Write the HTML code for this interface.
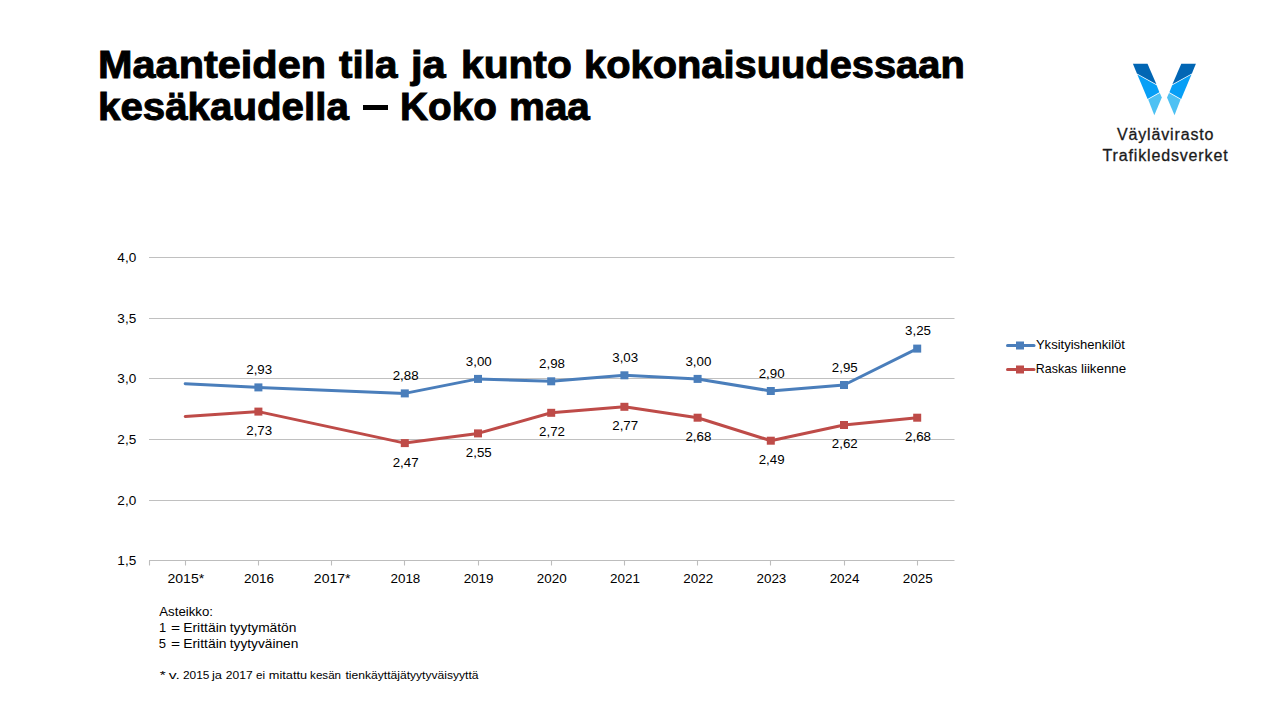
<!DOCTYPE html>
<html><head><meta charset="utf-8">
<style>
html,body{margin:0;padding:0;background:#fff;}
body{width:1280px;height:720px;position:relative;overflow:hidden;font-family:"Liberation Sans",sans-serif;}
.w{position:absolute;font-weight:bold;font-size:39.2px;line-height:42px;-webkit-text-stroke:1px #000;color:#000;white-space:nowrap;transform-origin:0 0;}
.logo-t{position:absolute;font-size:16px;letter-spacing:0.85px;color:#1a1a1a;-webkit-text-stroke:0.3px #1a1a1a;white-space:nowrap;}
svg{position:absolute;left:0;top:0;}
.t{font-family:"Liberation Sans",sans-serif;font-size:12px;fill:#000;}
</style></head><body>
<div class="w" style="left:98.13px;top:44px;transform:scaleX(1.0578)">Maanteiden</div>
<div class="w" style="left:339.2px;top:44px;transform:scaleX(1.0316)">tila</div>
<div class="w" style="left:410.56px;top:44px;transform:scaleX(1.0629)">ja</div>
<div class="w" style="left:461.32px;top:44px;transform:scaleX(1.0385)">kunto</div>
<div class="w" style="left:583.57px;top:44px;transform:scaleX(1.0164)">kokonaisuudessaan</div>
<div class="w" style="left:98.19px;top:86px;transform:scaleX(1.0278)">kesäkaudella</div>
<div style="position:absolute;left:363.3px;top:105.1px;width:24.9px;height:4.9px;background:#000"></div>
<div class="w" style="left:400.02px;top:86px;transform:scaleX(0.9895)">Koko</div>
<div class="w" style="left:508.94px;top:86px;transform:scaleX(1.0299)">maa</div>
<svg width="1280" height="720" viewBox="0 0 1280 720">
<line x1="149" y1="257.5" x2="954.5" y2="257.5" stroke="#c0c0c0" stroke-width="1.15"/>
<line x1="149" y1="318.5" x2="954.5" y2="318.5" stroke="#c0c0c0" stroke-width="1.15"/>
<line x1="149" y1="378.5" x2="954.5" y2="378.5" stroke="#c0c0c0" stroke-width="1.15"/>
<line x1="149" y1="439.5" x2="954.5" y2="439.5" stroke="#c0c0c0" stroke-width="1.15"/>
<line x1="149" y1="500.5" x2="954.5" y2="500.5" stroke="#c0c0c0" stroke-width="1.15"/>
<line x1="149" y1="560.5" x2="954.5" y2="560.5" stroke="#bdbdbd" stroke-width="1.15"/>
<line x1="149.5" y1="560.5" x2="149.5" y2="565.5" stroke="#bdbdbd" stroke-width="1.1"/>
<line x1="185.5" y1="560.5" x2="185.5" y2="565.5" stroke="#bdbdbd" stroke-width="1.1"/>
<line x1="258.5" y1="560.5" x2="258.5" y2="565.5" stroke="#bdbdbd" stroke-width="1.1"/>
<line x1="331.5" y1="560.5" x2="331.5" y2="565.5" stroke="#bdbdbd" stroke-width="1.1"/>
<line x1="404.5" y1="560.5" x2="404.5" y2="565.5" stroke="#bdbdbd" stroke-width="1.1"/>
<line x1="478.5" y1="560.5" x2="478.5" y2="565.5" stroke="#bdbdbd" stroke-width="1.1"/>
<line x1="551.5" y1="560.5" x2="551.5" y2="565.5" stroke="#bdbdbd" stroke-width="1.1"/>
<line x1="624.5" y1="560.5" x2="624.5" y2="565.5" stroke="#bdbdbd" stroke-width="1.1"/>
<line x1="697.5" y1="560.5" x2="697.5" y2="565.5" stroke="#bdbdbd" stroke-width="1.1"/>
<line x1="770.5" y1="560.5" x2="770.5" y2="565.5" stroke="#bdbdbd" stroke-width="1.1"/>
<line x1="844.5" y1="560.5" x2="844.5" y2="565.5" stroke="#bdbdbd" stroke-width="1.1"/>
<line x1="917.5" y1="560.5" x2="917.5" y2="565.5" stroke="#bdbdbd" stroke-width="1.1"/>
<text transform="translate(136.20,565.20) scale(1.13,1)" text-anchor="end" class="t">1,5</text>
<text transform="translate(136.20,504.60) scale(1.13,1)" text-anchor="end" class="t">2,0</text>
<text transform="translate(136.20,444.00) scale(1.13,1)" text-anchor="end" class="t">2,5</text>
<text transform="translate(136.20,383.40) scale(1.13,1)" text-anchor="end" class="t">3,0</text>
<text transform="translate(136.20,322.80) scale(1.13,1)" text-anchor="end" class="t">3,5</text>
<text transform="translate(136.20,262.20) scale(1.13,1)" text-anchor="end" class="t">4,0</text>
<text transform="translate(185.80,582.70) scale(1.17,1)" text-anchor="middle" class="t">2015*</text>
<text transform="translate(259.00,582.70) scale(1.12,1)" text-anchor="middle" class="t">2016</text>
<text transform="translate(332.20,582.70) scale(1.17,1)" text-anchor="middle" class="t">2017*</text>
<text transform="translate(405.40,582.70) scale(1.12,1)" text-anchor="middle" class="t">2018</text>
<text transform="translate(478.60,582.70) scale(1.12,1)" text-anchor="middle" class="t">2019</text>
<text transform="translate(551.80,582.70) scale(1.12,1)" text-anchor="middle" class="t">2020</text>
<text transform="translate(625.00,582.70) scale(1.12,1)" text-anchor="middle" class="t">2021</text>
<text transform="translate(698.20,582.70) scale(1.12,1)" text-anchor="middle" class="t">2022</text>
<text transform="translate(771.40,582.70) scale(1.12,1)" text-anchor="middle" class="t">2023</text>
<text transform="translate(844.60,582.70) scale(1.12,1)" text-anchor="middle" class="t">2024</text>
<text transform="translate(917.80,582.70) scale(1.12,1)" text-anchor="middle" class="t">2025</text>
<polyline points="185.2,383.7 258.4,387.4 404.8,393.4 478.0,378.9 551.2,381.3 624.4,375.3 697.6,378.9 770.8,391.0 844.0,385.0 917.2,348.6" fill="none" stroke="#4a7ebb" stroke-width="3" stroke-linejoin="round" stroke-linecap="round"/>
<rect x="254.4" y="383.4" width="8" height="8" fill="#4a7ebb"/>
<rect x="400.8" y="389.4" width="8" height="8" fill="#4a7ebb"/>
<rect x="474.0" y="374.9" width="8" height="8" fill="#4a7ebb"/>
<rect x="547.2" y="377.3" width="8" height="8" fill="#4a7ebb"/>
<rect x="620.4" y="371.3" width="8" height="8" fill="#4a7ebb"/>
<rect x="693.6" y="374.9" width="8" height="8" fill="#4a7ebb"/>
<rect x="766.8" y="387.0" width="8" height="8" fill="#4a7ebb"/>
<rect x="840.0" y="381.0" width="8" height="8" fill="#4a7ebb"/>
<rect x="913.2" y="344.6" width="8" height="8" fill="#4a7ebb"/>
<text transform="translate(259.20,373.98) scale(1.11,1)" text-anchor="middle" class="t">2,93</text>
<text transform="translate(405.60,380.04) scale(1.11,1)" text-anchor="middle" class="t">2,88</text>
<text transform="translate(478.80,365.50) scale(1.11,1)" text-anchor="middle" class="t">3,00</text>
<text transform="translate(552.00,367.92) scale(1.11,1)" text-anchor="middle" class="t">2,98</text>
<text transform="translate(625.20,361.86) scale(1.11,1)" text-anchor="middle" class="t">3,03</text>
<text transform="translate(698.40,365.50) scale(1.11,1)" text-anchor="middle" class="t">3,00</text>
<text transform="translate(771.60,377.62) scale(1.11,1)" text-anchor="middle" class="t">2,90</text>
<text transform="translate(844.80,371.56) scale(1.11,1)" text-anchor="middle" class="t">2,95</text>
<text transform="translate(918.00,335.20) scale(1.11,1)" text-anchor="middle" class="t">3,25</text>
<polyline points="185.2,416.5 258.4,411.6 404.8,443.1 478.0,433.4 551.2,412.8 624.4,406.8 697.6,417.7 770.8,440.7 844.0,425.0 917.2,417.7" fill="none" stroke="#be4b48" stroke-width="3" stroke-linejoin="round" stroke-linecap="round"/>
<rect x="254.4" y="407.6" width="8" height="8" fill="#be4b48"/>
<rect x="400.8" y="439.1" width="8" height="8" fill="#be4b48"/>
<rect x="474.0" y="429.4" width="8" height="8" fill="#be4b48"/>
<rect x="547.2" y="408.8" width="8" height="8" fill="#be4b48"/>
<rect x="620.4" y="402.8" width="8" height="8" fill="#be4b48"/>
<rect x="693.6" y="413.7" width="8" height="8" fill="#be4b48"/>
<rect x="766.8" y="436.7" width="8" height="8" fill="#be4b48"/>
<rect x="840.0" y="421.0" width="8" height="8" fill="#be4b48"/>
<rect x="913.2" y="413.7" width="8" height="8" fill="#be4b48"/>
<text transform="translate(259.20,435.02) scale(1.11,1)" text-anchor="middle" class="t">2,73</text>
<text transform="translate(405.60,466.54) scale(1.11,1)" text-anchor="middle" class="t">2,47</text>
<text transform="translate(478.80,456.84) scale(1.11,1)" text-anchor="middle" class="t">2,55</text>
<text transform="translate(552.00,436.24) scale(1.11,1)" text-anchor="middle" class="t">2,72</text>
<text transform="translate(625.20,430.18) scale(1.11,1)" text-anchor="middle" class="t">2,77</text>
<text transform="translate(698.40,441.08) scale(1.11,1)" text-anchor="middle" class="t">2,68</text>
<text transform="translate(771.60,464.11) scale(1.11,1)" text-anchor="middle" class="t">2,49</text>
<text transform="translate(844.80,448.36) scale(1.11,1)" text-anchor="middle" class="t">2,62</text>
<text transform="translate(918.00,441.08) scale(1.11,1)" text-anchor="middle" class="t">2,68</text>
<line x1="1007.5" y1="345.5" x2="1034" y2="345.5" stroke="#4a7ebb" stroke-width="3" stroke-linecap="round"/>
<rect x="1016" y="341.5" width="8" height="8" fill="#4a7ebb"/>
<text transform="translate(1035.92,348.8) scale(1.0876,1)" style="font-size:12px" class="t">Yksityishenkilöt</text>
<line x1="1007.5" y1="369.5" x2="1034" y2="369.5" stroke="#be4b48" stroke-width="3" stroke-linecap="round"/>
<rect x="1016" y="365.5" width="8" height="8" fill="#be4b48"/>
<text transform="translate(1035.86,372.6) scale(1.0363,1)" style="font-size:12px" class="t">Raskas</text>
<text transform="translate(1081.01,372.6) scale(1.1091,1)" style="font-size:12px" class="t">liikenne</text>
<text transform="translate(159.29,615.9) scale(1.1053,1)" style="font-size:12px" class="t">Asteikko:</text>
<text transform="translate(159.03,632.2) scale(1.0769,1)" style="font-size:12px" class="t">1</text>
<text transform="translate(171.12,632.2) scale(1.2931,1)" style="font-size:12px" class="t">=</text>
<text transform="translate(183.24,632.2) scale(1.1573,1)" style="font-size:12px" class="t">Erittäin</text>
<text transform="translate(229.77,632.2) scale(1.1509,1)" style="font-size:12px" class="t">tyytymätön</text>
<text transform="translate(158.86,647.6) scale(1.0877,1)" style="font-size:12px" class="t">5</text>
<text transform="translate(171.12,647.6) scale(1.2931,1)" style="font-size:12px" class="t">=</text>
<text transform="translate(183.24,647.6) scale(1.1573,1)" style="font-size:12px" class="t">Erittäin</text>
<text transform="translate(229.77,647.6) scale(1.1441,1)" style="font-size:12px" class="t">tyytyväinen</text>
<text transform="translate(159.64,678.6) scale(1.3171,1)" style="font-size:11.6px" class="t">*</text>
<text transform="translate(168.76,678.6) scale(1.3571,1)" style="font-size:11.6px" class="t">v.</text>
<text transform="translate(182.99,678.6) scale(1.0243,1)" style="font-size:11.6px" class="t">2015</text>
<text transform="translate(211.93,678.6) scale(1.1075,1)" style="font-size:11.6px" class="t">ja</text>
<text transform="translate(225.78,678.6) scale(1.0407,1)" style="font-size:11.6px" class="t">2017</text>
<text transform="translate(256.00,678.6) scale(1.0000,1)" style="font-size:11.6px" class="t">ei</text>
<text transform="translate(268.82,678.6) scale(1.1009,1)" style="font-size:11.6px" class="t">mitattu</text>
<text transform="translate(310.10,678.6) scale(1.0000,1)" style="font-size:11.6px" class="t">kesän</text>
<text transform="translate(345.49,678.6) scale(1.0431,1)" style="font-size:11.6px" class="t">tienkäyttäjätyytyväisyyttä</text>
<polygon points="1132.9,63.8 1147.5,63.8 1156.4,84.2 1136.9,73.4" fill="#0266b4"/>
<polygon points="1195.9,63.8 1181.3,63.8 1172.4,84.2 1191.9,73.4" fill="#0266b4"/>
<polygon points="1137.3,74.5 1156.6,85.2 1159.4,92.2 1147.6,98.9" fill="#079ff6"/>
<polygon points="1191.5,74.5 1172.2,85.2 1169.4,92.2 1181.2,98.9" fill="#079ff6"/>
<polygon points="1148.2,99.6 1159.8,93.0 1161.8,97.4 1154.3,115.2" fill="#4ec1f3"/>
<polygon points="1180.6,99.6 1169.0,93.0 1167.0,97.4 1174.5,115.2" fill="#4ec1f3"/>
</svg>
<div class="logo-t" id="lg1" style="left:1117px;top:126px;">Väylävirasto</div>
<div class="logo-t" id="lg2" style="left:1102.5px;top:147px;">Trafikledsverket</div>
</body></html>
